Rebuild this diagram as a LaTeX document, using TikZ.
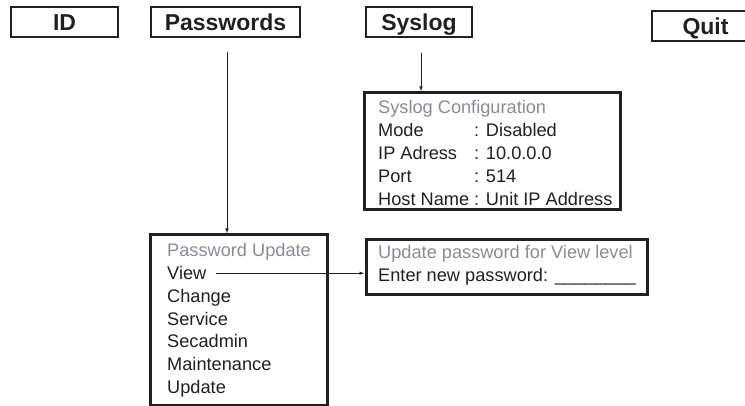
\documentclass[tikz,border=0pt]{standalone}
\usepackage{fontspec}
\setmainfont{Liberation Sans}
\usetikzlibrary{positioning,arrows.meta}
\definecolor{ink}{RGB}{35,31,32}
\definecolor{hint}{RGB}{135,140,152}
\tikzset{
  tab/.style={draw=ink, line width=1.2pt, minimum height=30pt, inner sep=0pt, text=ink,
    text height=16.4pt, text depth=0pt, font=\bfseries\fontsize{23}{27}\selectfont},
  panel/.style={draw=ink, line width=3pt, inner sep=0pt},
  entry/.style={anchor=base west, inner sep=0pt, text=ink, font=\fontsize{18.2}{22}\selectfont},
  heading/.style={entry, text=hint},
  link/.style={draw=ink, line width=0.8pt, -{Latex[length=5pt,width=3.5pt]}},
}
\begin{document}
\begin{tikzpicture}[x=1pt,y=-1pt]
  \useasboundingbox (0,0) rectangle (745,406);

  % Menu tabs
  \node[tab, minimum width=107pt] (id) at (64.5,22) {ID};
  \node[tab, minimum width=149pt] (pw) at (225.5,22) {Passwords};
  \node[tab, minimum width=106pt] (sys) at (419,22) {Syslog};
  \node[tab, minimum width=107pt] (quit) at (705.5,26) {Quit};

  % Syslog configuration panel
  \node[panel, minimum width=256pt, minimum height=117pt] (syscfg) at (492,151.5) {};
  \node[heading] (systitle) at (378,114) {Syslog Configuration};
  \foreach \key/\val [count=\i] in {Mode/Disabled, IP Adress/10.0.0.0, Port/514, Host Name/Unit IP Address} {
    \node[entry] (syskey\i) at (378,114+23*\i) {\key};
    \node[entry] (sysval\i) at (474,114+23*\i) {: \val};
  }

  % Password update menu
  \node[panel, minimum width=177pt, minimum height=170pt] (pwmenu) at (238.5,320) {};
  \node[heading] (pwtitle) at (167,257) {Password Update};
  \foreach \opt [count=\i] in {View, Change, Service, Secadmin, Maintenance, Update}
    \node[entry] (pwitem\i) at (167,257+22.7*\i) {\opt};

  % New password prompt
  \node[panel, minimum width=281pt, minimum height=55pt] (pwnew) at (506.5,267) {};
  \node[heading] (newtitle) at (378,259) {Update password for View level};
  \node[entry] (newprompt) at (378,282) {Enter new password: \_\_\_\_\_\_\_\_};

  % Links
  \coordinate (pwfrom) at (227,52);
  \coordinate (sysfrom) at (421,53);
  \draw[link] (pwfrom) -- (pwfrom |- pwmenu.north);
  \draw[link] (sysfrom) -- (sysfrom |- syscfg.north);
  \draw[link] ([xshift=9pt]pwitem1.east) -- (pwitem1.east -| pwnew.west);
\end{tikzpicture}
\end{document}
